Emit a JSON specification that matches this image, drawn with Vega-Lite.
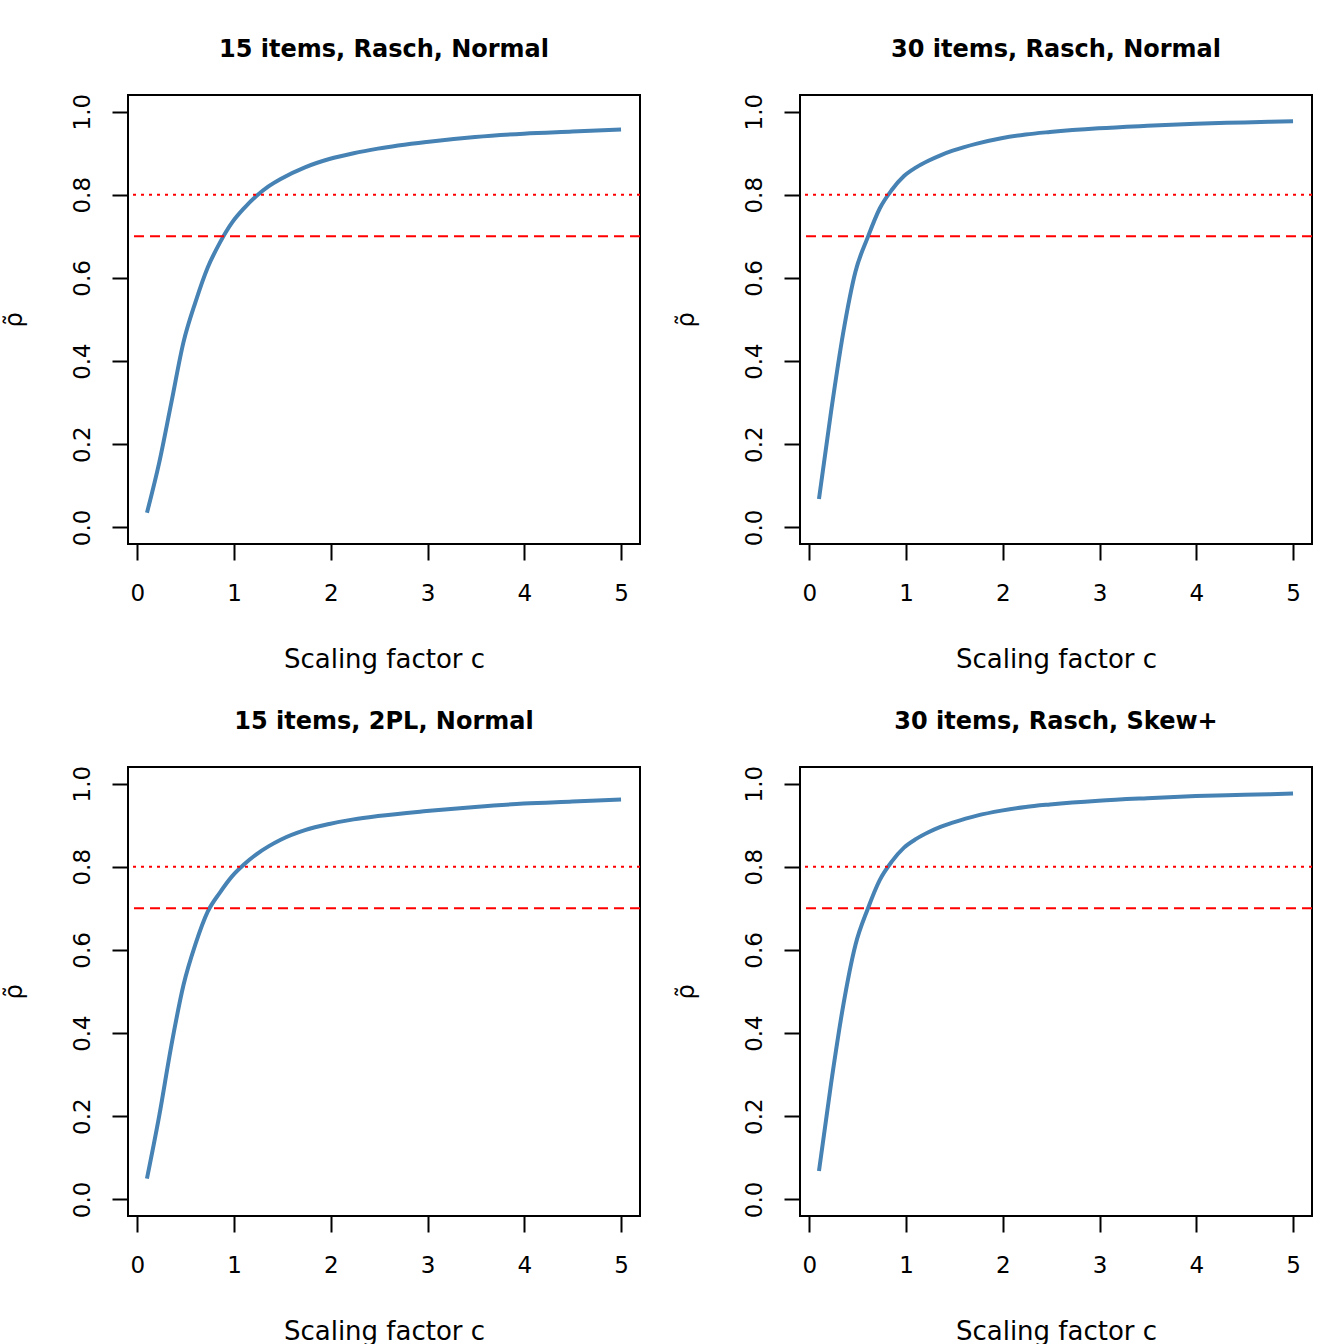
{
  "$schema": "https://vega.github.io/schema/vega-lite/v6.json",
  "autosize": {"type": "none"},
  "padding": {"left": 128, "top": 95, "right": 1216, "bottom": 1249},
  "background": "white",
  "datasets": {
    "curves": [
      {"panel": "15 items, Rasch, Normal", "c": 0.1, "rho": 0.035},
      {"panel": "15 items, Rasch, Normal", "c": 0.226, "rho": 0.155},
      {"panel": "15 items, Rasch, Normal", "c": 0.352, "rho": 0.3},
      {"panel": "15 items, Rasch, Normal", "c": 0.477, "rho": 0.445},
      {"panel": "15 items, Rasch, Normal", "c": 0.603, "rho": 0.543},
      {"panel": "15 items, Rasch, Normal", "c": 0.728, "rho": 0.625},
      {"panel": "15 items, Rasch, Normal", "c": 0.854, "rho": 0.685},
      {"panel": "15 items, Rasch, Normal", "c": 0.979, "rho": 0.733},
      {"panel": "15 items, Rasch, Normal", "c": 1.105, "rho": 0.768},
      {"panel": "15 items, Rasch, Normal", "c": 1.231, "rho": 0.797},
      {"panel": "15 items, Rasch, Normal", "c": 1.356, "rho": 0.82},
      {"panel": "15 items, Rasch, Normal", "c": 1.482, "rho": 0.838},
      {"panel": "15 items, Rasch, Normal", "c": 1.733, "rho": 0.866},
      {"panel": "15 items, Rasch, Normal", "c": 1.985, "rho": 0.886},
      {"panel": "15 items, Rasch, Normal", "c": 2.236, "rho": 0.9},
      {"panel": "15 items, Rasch, Normal", "c": 2.487, "rho": 0.911},
      {"panel": "15 items, Rasch, Normal", "c": 2.99, "rho": 0.927},
      {"panel": "15 items, Rasch, Normal", "c": 3.492, "rho": 0.939},
      {"panel": "15 items, Rasch, Normal", "c": 3.995, "rho": 0.947},
      {"panel": "15 items, Rasch, Normal", "c": 4.497, "rho": 0.952},
      {"panel": "15 items, Rasch, Normal", "c": 5.0, "rho": 0.957},

      {"panel": "30 items, Rasch, Normal", "c": 0.1, "rho": 0.068},
      {"panel": "30 items, Rasch, Normal", "c": 0.226, "rho": 0.28},
      {"panel": "30 items, Rasch, Normal", "c": 0.352, "rho": 0.47},
      {"panel": "30 items, Rasch, Normal", "c": 0.477, "rho": 0.615},
      {"panel": "30 items, Rasch, Normal", "c": 0.603, "rho": 0.697},
      {"panel": "30 items, Rasch, Normal", "c": 0.728, "rho": 0.767},
      {"panel": "30 items, Rasch, Normal", "c": 0.854, "rho": 0.812},
      {"panel": "30 items, Rasch, Normal", "c": 0.979, "rho": 0.845},
      {"panel": "30 items, Rasch, Normal", "c": 1.105, "rho": 0.866},
      {"panel": "30 items, Rasch, Normal", "c": 1.231, "rho": 0.882},
      {"panel": "30 items, Rasch, Normal", "c": 1.356, "rho": 0.895},
      {"panel": "30 items, Rasch, Normal", "c": 1.482, "rho": 0.906},
      {"panel": "30 items, Rasch, Normal", "c": 1.733, "rho": 0.923},
      {"panel": "30 items, Rasch, Normal", "c": 1.985, "rho": 0.936},
      {"panel": "30 items, Rasch, Normal", "c": 2.236, "rho": 0.945},
      {"panel": "30 items, Rasch, Normal", "c": 2.487, "rho": 0.951},
      {"panel": "30 items, Rasch, Normal", "c": 2.99, "rho": 0.96},
      {"panel": "30 items, Rasch, Normal", "c": 3.492, "rho": 0.966},
      {"panel": "30 items, Rasch, Normal", "c": 3.995, "rho": 0.971},
      {"panel": "30 items, Rasch, Normal", "c": 4.497, "rho": 0.974},
      {"panel": "30 items, Rasch, Normal", "c": 5.0, "rho": 0.977},

      {"panel": "15 items, 2PL, Normal", "c": 0.1, "rho": 0.05},
      {"panel": "15 items, 2PL, Normal", "c": 0.226, "rho": 0.2},
      {"panel": "15 items, 2PL, Normal", "c": 0.352, "rho": 0.37},
      {"panel": "15 items, 2PL, Normal", "c": 0.477, "rho": 0.515},
      {"panel": "15 items, 2PL, Normal", "c": 0.603, "rho": 0.615},
      {"panel": "15 items, 2PL, Normal", "c": 0.728, "rho": 0.692},
      {"panel": "15 items, 2PL, Normal", "c": 0.854, "rho": 0.738},
      {"panel": "15 items, 2PL, Normal", "c": 0.979, "rho": 0.777},
      {"panel": "15 items, 2PL, Normal", "c": 1.105, "rho": 0.806},
      {"panel": "15 items, 2PL, Normal", "c": 1.231, "rho": 0.83},
      {"panel": "15 items, 2PL, Normal", "c": 1.356, "rho": 0.849},
      {"panel": "15 items, 2PL, Normal", "c": 1.482, "rho": 0.865},
      {"panel": "15 items, 2PL, Normal", "c": 1.733, "rho": 0.888},
      {"panel": "15 items, 2PL, Normal", "c": 1.985, "rho": 0.903},
      {"panel": "15 items, 2PL, Normal", "c": 2.236, "rho": 0.914},
      {"panel": "15 items, 2PL, Normal", "c": 2.487, "rho": 0.922},
      {"panel": "15 items, 2PL, Normal", "c": 2.99, "rho": 0.934},
      {"panel": "15 items, 2PL, Normal", "c": 3.492, "rho": 0.944},
      {"panel": "15 items, 2PL, Normal", "c": 3.995, "rho": 0.952},
      {"panel": "15 items, 2PL, Normal", "c": 4.497, "rho": 0.957},
      {"panel": "15 items, 2PL, Normal", "c": 5.0, "rho": 0.962},

      {"panel": "30 items, Rasch, Skew+", "c": 0.1, "rho": 0.068},
      {"panel": "30 items, Rasch, Skew+", "c": 0.226, "rho": 0.28},
      {"panel": "30 items, Rasch, Skew+", "c": 0.352, "rho": 0.468},
      {"panel": "30 items, Rasch, Skew+", "c": 0.477, "rho": 0.612},
      {"panel": "30 items, Rasch, Skew+", "c": 0.603, "rho": 0.698},
      {"panel": "30 items, Rasch, Skew+", "c": 0.728, "rho": 0.768},
      {"panel": "30 items, Rasch, Skew+", "c": 0.854, "rho": 0.813},
      {"panel": "30 items, Rasch, Skew+", "c": 0.979, "rho": 0.846},
      {"panel": "30 items, Rasch, Skew+", "c": 1.105, "rho": 0.867},
      {"panel": "30 items, Rasch, Skew+", "c": 1.231, "rho": 0.883},
      {"panel": "30 items, Rasch, Skew+", "c": 1.356, "rho": 0.896},
      {"panel": "30 items, Rasch, Skew+", "c": 1.482, "rho": 0.906},
      {"panel": "30 items, Rasch, Skew+", "c": 1.733, "rho": 0.923},
      {"panel": "30 items, Rasch, Skew+", "c": 1.985, "rho": 0.935},
      {"panel": "30 items, Rasch, Skew+", "c": 2.236, "rho": 0.944},
      {"panel": "30 items, Rasch, Skew+", "c": 2.487, "rho": 0.95},
      {"panel": "30 items, Rasch, Skew+", "c": 2.99, "rho": 0.959},
      {"panel": "30 items, Rasch, Skew+", "c": 3.492, "rho": 0.965},
      {"panel": "30 items, Rasch, Skew+", "c": 3.995, "rho": 0.97},
      {"panel": "30 items, Rasch, Skew+", "c": 4.497, "rho": 0.973},
      {"panel": "30 items, Rasch, Skew+", "c": 5.0, "rho": 0.976}
    ],
    "thresholds": [
      {"level": 0.8, "kind": "dotted"},
      {"level": 0.7, "kind": "dashed"}
    ]
  },
  "config": {
    "font": "DejaVu Sans",
    "view": {"stroke": "black", "strokeWidth": 2},
    "title": {
      "font": "DejaVu Sans",
      "fontSize": 24,
      "fontWeight": "bold",
      "color": "black",
      "baseline": "alphabetic",
      "offset": 31,
      "frame": "group",
      "anchor": "middle"
    },
    "axis": {
      "grid": false,
      "domain": false,
      "tickColor": "black",
      "tickWidth": 2,
      "tickSize": 16,
      "labelColor": "black",
      "labelFont": "DejaVu Sans",
      "labelFontSize": 23,
      "labelFlush": false,
      "labelOverlap": false,
      "titleColor": "black",
      "titleFont": "DejaVu Sans",
      "titleFontWeight": "normal"
    },
    "axisX": {
      "labelBaseline": "top",
      "labelPadding": 22,
      "titleFontSize": 26,
      "titleBaseline": "alphabetic",
      "titleY": 123
    },
    "axisY": {
      "labelAngle": -90,
      "labelAlign": "center",
      "labelBaseline": "alphabetic",
      "labelPadding": 23,
      "titleFontSize": 24,
      "titleAngle": -90,
      "titleAlign": "center",
      "titleBaseline": "alphabetic",
      "titleX": -107,
      "titleY": 224.5
    }
  },
  "bounds": "flush",
  "columns": 2,
  "spacing": {"row": 223, "column": 160},
  "concat": [
    {
      "width": 512,
      "height": 449,
      "title": "15 items, Rasch, Normal",
      "layer": [
        {
          "data": {"name": "curves"},
          "transform": [{"filter": "datum.panel === '15 items, Rasch, Normal'"}],
          "mark": {"type": "line", "color": "#4682B4", "strokeWidth": 4, "interpolate": "monotone"},
          "encoding": {
            "x": {"field": "c", "type": "quantitative", "scale": {"domain": [-0.096, 5.196], "nice": false, "zero": false}, "axis": {"values": [0, 1, 2, 3, 4, 5], "title": "Scaling factor c"}},
            "y": {"field": "rho", "type": "quantitative", "scale": {"domain": [-0.04, 1.04], "nice": false, "zero": false}, "axis": {"values": [0, 0.2, 0.4, 0.6, 0.8, 1.0], "format": ".1f", "title": "ρ̃"}}
          }
        },
        {
          "data": {"name": "thresholds"},
          "mark": {"type": "rule", "color": "#FF0000", "strokeWidth": 2},
          "encoding": {
            "y": {"field": "level", "type": "quantitative"},
            "strokeDash": {"field": "kind", "type": "nominal", "scale": {"domain": ["dotted", "dashed"], "range": [[3, 5], [10, 6]]}, "legend": null}
          }
        }
      ]
    },
    {
      "width": 512,
      "height": 449,
      "title": "30 items, Rasch, Normal",
      "layer": [
        {
          "data": {"name": "curves"},
          "transform": [{"filter": "datum.panel === '30 items, Rasch, Normal'"}],
          "mark": {"type": "line", "color": "#4682B4", "strokeWidth": 4, "interpolate": "monotone"},
          "encoding": {
            "x": {"field": "c", "type": "quantitative", "scale": {"domain": [-0.096, 5.196], "nice": false, "zero": false}, "axis": {"values": [0, 1, 2, 3, 4, 5], "title": "Scaling factor c"}},
            "y": {"field": "rho", "type": "quantitative", "scale": {"domain": [-0.04, 1.04], "nice": false, "zero": false}, "axis": {"values": [0, 0.2, 0.4, 0.6, 0.8, 1.0], "format": ".1f", "title": "ρ̃"}}
          }
        },
        {
          "data": {"name": "thresholds"},
          "mark": {"type": "rule", "color": "#FF0000", "strokeWidth": 2},
          "encoding": {
            "y": {"field": "level", "type": "quantitative"},
            "strokeDash": {"field": "kind", "type": "nominal", "scale": {"domain": ["dotted", "dashed"], "range": [[3, 5], [10, 6]]}, "legend": null}
          }
        }
      ]
    },
    {
      "width": 512,
      "height": 449,
      "title": "15 items, 2PL, Normal",
      "layer": [
        {
          "data": {"name": "curves"},
          "transform": [{"filter": "datum.panel === '15 items, 2PL, Normal'"}],
          "mark": {"type": "line", "color": "#4682B4", "strokeWidth": 4, "interpolate": "monotone"},
          "encoding": {
            "x": {"field": "c", "type": "quantitative", "scale": {"domain": [-0.096, 5.196], "nice": false, "zero": false}, "axis": {"values": [0, 1, 2, 3, 4, 5], "title": "Scaling factor c"}},
            "y": {"field": "rho", "type": "quantitative", "scale": {"domain": [-0.04, 1.04], "nice": false, "zero": false}, "axis": {"values": [0, 0.2, 0.4, 0.6, 0.8, 1.0], "format": ".1f", "title": "ρ̃"}}
          }
        },
        {
          "data": {"name": "thresholds"},
          "mark": {"type": "rule", "color": "#FF0000", "strokeWidth": 2},
          "encoding": {
            "y": {"field": "level", "type": "quantitative"},
            "strokeDash": {"field": "kind", "type": "nominal", "scale": {"domain": ["dotted", "dashed"], "range": [[3, 5], [10, 6]]}, "legend": null}
          }
        }
      ]
    },
    {
      "width": 512,
      "height": 449,
      "title": "30 items, Rasch, Skew+",
      "layer": [
        {
          "data": {"name": "curves"},
          "transform": [{"filter": "datum.panel === '30 items, Rasch, Skew+'"}],
          "mark": {"type": "line", "color": "#4682B4", "strokeWidth": 4, "interpolate": "monotone"},
          "encoding": {
            "x": {"field": "c", "type": "quantitative", "scale": {"domain": [-0.096, 5.196], "nice": false, "zero": false}, "axis": {"values": [0, 1, 2, 3, 4, 5], "title": "Scaling factor c"}},
            "y": {"field": "rho", "type": "quantitative", "scale": {"domain": [-0.04, 1.04], "nice": false, "zero": false}, "axis": {"values": [0, 0.2, 0.4, 0.6, 0.8, 1.0], "format": ".1f", "title": "ρ̃"}}
          }
        },
        {
          "data": {"name": "thresholds"},
          "mark": {"type": "rule", "color": "#FF0000", "strokeWidth": 2},
          "encoding": {
            "y": {"field": "level", "type": "quantitative"},
            "strokeDash": {"field": "kind", "type": "nominal", "scale": {"domain": ["dotted", "dashed"], "range": [[3, 5], [10, 6]]}, "legend": null}
          }
        }
      ]
    }
  ]
}
